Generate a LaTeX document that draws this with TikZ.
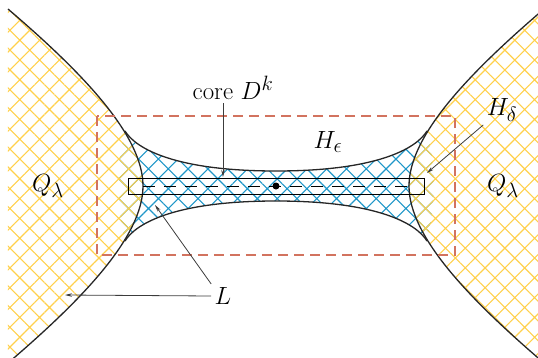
\documentclass[tikz,border=0pt]{standalone}
\usetikzlibrary{arrows.meta,patterns.meta}
\definecolor{hatchyellow}{RGB}{255,208,75}
\definecolor{hatchblue}{RGB}{30,150,200}
\definecolor{boxred}{RGB}{210,115,95}
\definecolor{leadgray}{RGB}{60,60,60}

\begin{document}
\begin{tikzpicture}[
  x=1pt,y=1pt,
  >={Stealth[length=7pt,width=3.5pt]},
  label/.style={font=\Huge},
  rim/.style={draw=black!85,line width=1.3pt},
  qhatch/.style={pattern={Hatch[angle=45,distance=14pt,line width=1.1pt]},
                 pattern color=hatchyellow,fill opacity=0.75},
  hhatch/.style={pattern={Hatch[angle=45,distance=14pt,line width=1.1pt]},
                 pattern color=hatchblue},
  leader/.style={->,draw=leadgray,line width=0.8pt}
]
\useasboundingbox (-276,-171) rectangle (262,186);

% handle region H_eps
\path[hhatch] (-151,55) .. controls (-140,37) and (-100,15) .. (0,15)
  .. controls (100,15) and (140,37) .. (151,55)
  .. controls (160,20) and (160,-20) .. (151,-55)
  .. controls (140,-37) and (100,-15) .. (0,-15)
  .. controls (-100,-15) and (-140,-37) .. (-151,-55)
  .. controls (-160,-20) and (-160,20) .. (-151,55) -- cycle;

% the two sides Q_lambda
\path[qhatch] (-268,177) .. controls (-192,112) and (-133,50) .. (-133,0)
  .. controls (-133,-50) and (-192,-112) .. (-268,-177) -- cycle;
\path[qhatch] (268,177) .. controls (192,112) and (133,50) .. (133,0)
  .. controls (133,-50) and (192,-112) .. (268,-177) -- cycle;

\draw[rim] (-268,177) .. controls (-192,112) and (-133,50) .. (-133,0)
  .. controls (-133,-50) and (-192,-112) .. (-268,-177);
\draw[rim] (268,177) .. controls (192,112) and (133,50) .. (133,0)
  .. controls (133,-50) and (192,-112) .. (268,-177);

% neck
\draw[rim] (-151,55) .. controls (-140,37) and (-100,15) .. (0,15)
  .. controls (100,15) and (140,37) .. (151,55);
\draw[rim] (-151,-55) .. controls (-140,-37) and (-100,-15) .. (0,-15)
  .. controls (100,-15) and (140,-37) .. (151,-55);

% H_delta box and core
\draw[boxred,dash pattern=on 10pt off 6pt,line width=1.3pt] (-179,70) rectangle (179,-69);
\draw[line width=0.9pt] (-148,8) rectangle (148,-8);
\draw[dash pattern=on 12pt off 9pt,line width=0.8pt] (-133,0) -- (132,0);
\node[circle,fill,inner sep=0pt,minimum size=7pt] (ctr) at (0,0) {};

\node[label] (qleft) at (-228,0) {$Q_\lambda$};
\node[label] (qright) at (227,0) {$Q_\lambda$};
\node[label] (heps) at (52,44) {$H_\epsilon$};
\node[label] (hdelta) at (226,76) {$H_\delta$};
\node[label] (core) at (-43,98) {core $D^k$};
\node[label] (lline) at (-53,-110) {$L$};

\coordinate (coretip) at (-53,9);
\coordinate (hdtip) at (151,13);
\coordinate (ltipq) at (-211,-109);
\coordinate (ltiph) at (-121,-19);

\draw[leader] (coretip |- core.south) -- (coretip);
\draw[leader] (hdelta.south west) -- (hdtip);
\draw[leader] (lline.west) -- (ltipq);
\draw[leader] (lline.north west) -- (ltiph);
\end{tikzpicture}
\end{document}
